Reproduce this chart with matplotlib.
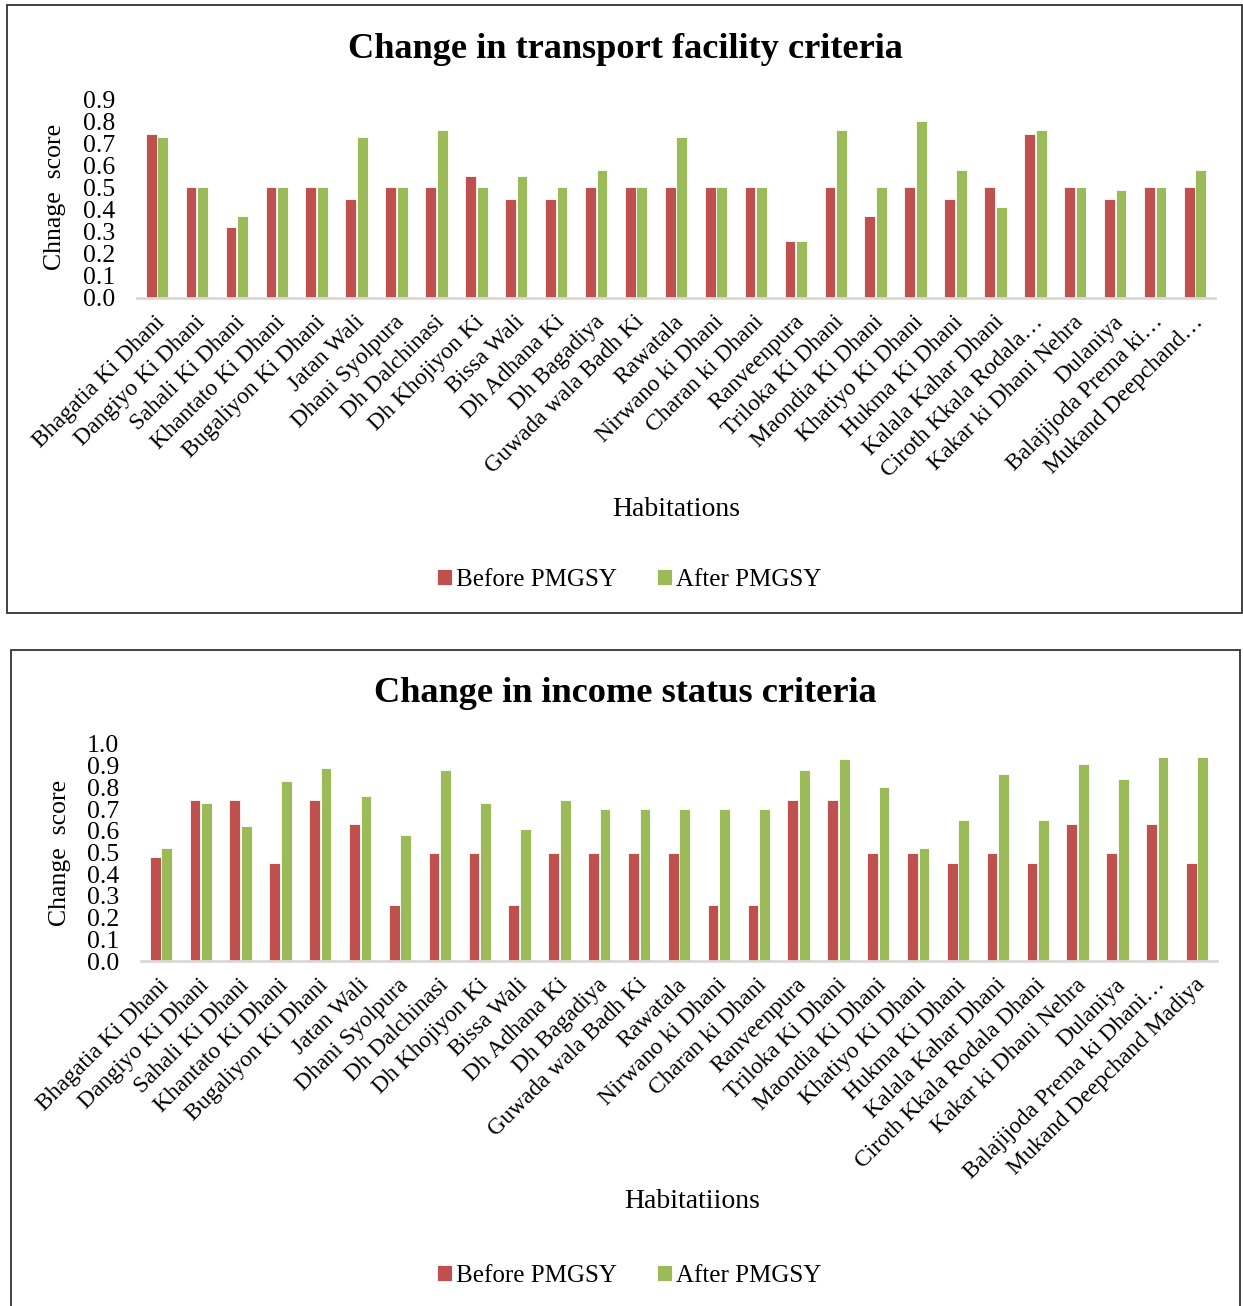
import matplotlib
matplotlib.use("Agg")
import matplotlib.pyplot as plt
import matplotlib.transforms as mtransforms
import numpy as np
from matplotlib.patches import Rectangle

plt.rcParams['font.family'] = ['Liberation Serif', 'DejaVu Serif']

# Habitation names (long names truncated as shown on the axes)
transport_labels = [
    "Bhagatia Ki Dhani", "Dangiyo Ki Dhani", "Sahali Ki Dhani", "Khantato Ki Dhani",
    "Bugaliyon Ki Dhani", "Jatan Wali", "Dhani Syolpura", "Dh Dalchinasi",
    "Dh Khojiyon Ki", "Bissa Wali", "Dh Adhana Ki", "Dh Bagadiya",
    "Guwada wala Badh Ki", "Rawatala", "Nirwano ki Dhani", "Charan ki Dhani",
    "Ranveenpura", "Triloka Ki Dhani", "Maondia Ki Dhani", "Khatiyo Ki Dhani",
    "Hukma Ki Dhani", "Kalala Kahar Dhani", "Ciroth Kkala Rodala\u2026",
    "Kakar ki Dhani Nehra", "Dulaniya", "Balajijoda Prema ki\u2026", "Mukand Deepchand\u2026",
]
income_labels = [
    "Bhagatia Ki Dhani", "Dangiyo Ki Dhani", "Sahali Ki Dhani", "Khantato Ki Dhani",
    "Bugaliyon Ki Dhani", "Jatan Wali", "Dhani Syolpura", "Dh Dalchinasi",
    "Dh Khojiyon Ki", "Bissa Wali", "Dh Adhana Ki", "Dh Bagadiya",
    "Guwada wala Badh Ki", "Rawatala", "Nirwano ki Dhani", "Charan ki Dhani",
    "Ranveenpura", "Triloka Ki Dhani", "Maondia Ki Dhani", "Khatiyo Ki Dhani",
    "Hukma Ki Dhani", "Kalala Kahar Dhani", "Ciroth Kkala Rodala Dhani",
    "Kakar ki Dhani Nehra", "Dulaniya", "Balajijoda Prema ki Dhani\u2026",
    "Mukand Deepchand Madiya",
]

# Transport facility change scores
transport_before = [0.74, 0.50, 0.32, 0.50, 0.50, 0.45, 0.50, 0.50, 0.55, 0.45, 0.45, 0.50, 0.50,
                    0.50, 0.50, 0.50, 0.26, 0.50, 0.37, 0.50, 0.45, 0.50, 0.74, 0.50, 0.45, 0.50, 0.50]
transport_after = [0.73, 0.50, 0.37, 0.50, 0.50, 0.73, 0.50, 0.76, 0.50, 0.55, 0.50, 0.58, 0.50,
                   0.73, 0.50, 0.50, 0.26, 0.76, 0.50, 0.80, 0.58, 0.41, 0.76, 0.50, 0.49, 0.50, 0.58]

# Income status change scores
income_before = [0.48, 0.74, 0.74, 0.45, 0.74, 0.63, 0.26, 0.50, 0.50, 0.26, 0.50, 0.50, 0.50,
                 0.50, 0.26, 0.26, 0.74, 0.74, 0.50, 0.50, 0.45, 0.50, 0.45, 0.63, 0.50, 0.63, 0.45]
income_after = [0.52, 0.73, 0.62, 0.83, 0.89, 0.76, 0.58, 0.88, 0.73, 0.61, 0.74, 0.70, 0.70,
                0.70, 0.70, 0.70, 0.88, 0.93, 0.80, 0.52, 0.65, 0.86, 0.65, 0.91, 0.84, 0.94, 0.94]

series_names = ["Before PMGSY", "After PMGSY"]
RED = "#C0504D"
GREEN = "#9BBB59"

W, H = 1243, 1306
fig = plt.figure(figsize=(W / 100, H / 100), dpi=100)


def fx(px):
    return px / W


def fy(py):
    return 1 - py / H


def draw_panel(rect, labels, before, after, ymax, title, ylabel, xlabel,
               title_y, ylabel_xy, xlabel_xy, legend_y):
    ax = fig.add_axes(rect)
    x = np.arange(len(labels))
    w = 0.27
    ax.bar(x - w / 2 - 0.01, before, w, color=RED, edgecolor="white", linewidth=0.6,
           label=series_names[0])
    ax.bar(x + w / 2 + 0.01, after, w, color=GREEN, edgecolor="white", linewidth=0.6,
           label=series_names[1])
    ax.set_xlim(-0.5, len(labels) - 0.5)
    ax.set_ylim(0, ymax)
    yt = np.round(np.arange(0, ymax + 0.001, 0.1), 1)
    ax.set_yticks(yt)
    ax.set_yticklabels([f"{v:.1f}" for v in yt], fontsize=18.5)
    ax.set_xticks(x)
    ax.set_xticklabels(labels, rotation=45, ha="right", va="center",
                       rotation_mode="anchor", fontsize=17)
    ax.tick_params(axis="both", length=0)
    ax.tick_params(axis="y", pad=16)
    ax.tick_params(axis="x", pad=15)
    shift = mtransforms.ScaledTranslation(5 / 100, 0, fig.dpi_scale_trans)
    for lab in ax.get_xticklabels():
        lab.set_transform(lab.get_transform() + shift)
    for s in ("top", "right", "left"):
        ax.spines[s].set_visible(False)
    ax.spines["bottom"].set_color("#d9d9d9")
    ax.spines["bottom"].set_linewidth(2)
    ax.set_facecolor("none")

    fig.text(fx(625), fy(title_y), title, ha="center", va="center",
             fontsize=26.2, fontweight="bold")
    fig.text(fx(ylabel_xy[0]), fy(ylabel_xy[1]), ylabel, ha="center", va="center",
             rotation=90, fontsize=18.5)
    fig.text(fx(xlabel_xy[0]), fy(xlabel_xy[1]), xlabel, ha="center", va="center",
             fontsize=20)
    handles, lbls = ax.get_legend_handles_labels()
    fig.legend(handles, lbls, loc="center", bbox_to_anchor=(fx(629), fy(legend_y)),
               ncol=2, frameon=False, fontsize=18, handlelength=0.6, handleheight=0.6,
               handletextpad=0.15, columnspacing=1.6)
    return ax


# Transport facility panel
draw_panel([fx(137), fy(298), fx(1215) - fx(137), fy(99) - fy(298)],
           transport_labels, transport_before, transport_after, 0.9,
           "Change in transport facility criteria", "Chnage  score", "Habitations",
           title_y=50, ylabel_xy=(55, 197), xlabel_xy=(676, 509), legend_y=580)

# Income status panel
draw_panel([fx(141), fy(961), fx(1217) - fx(141), fy(744) - fy(961)],
           income_labels, income_before, income_after, 1.0,
           "Change in income status criteria", "Change  score", "Habitatiions",
           title_y=694, ylabel_xy=(60, 853), xlabel_xy=(692, 1202), legend_y=1276)

# Chart borders
fig.add_artist(Rectangle((fx(7), fy(613)), fx(1242) - fx(7), fy(5) - fy(613),
                         transform=fig.transFigure, fill=False, edgecolor="#333333",
                         linewidth=1.3))
fig.add_artist(Rectangle((fx(11), fy(1320)), fx(1240) - fx(11), fy(650) - fy(1320),
                         transform=fig.transFigure, fill=False, edgecolor="#333333",
                         linewidth=1.3))

fig.savefig("out.png", dpi=100, facecolor="white")
